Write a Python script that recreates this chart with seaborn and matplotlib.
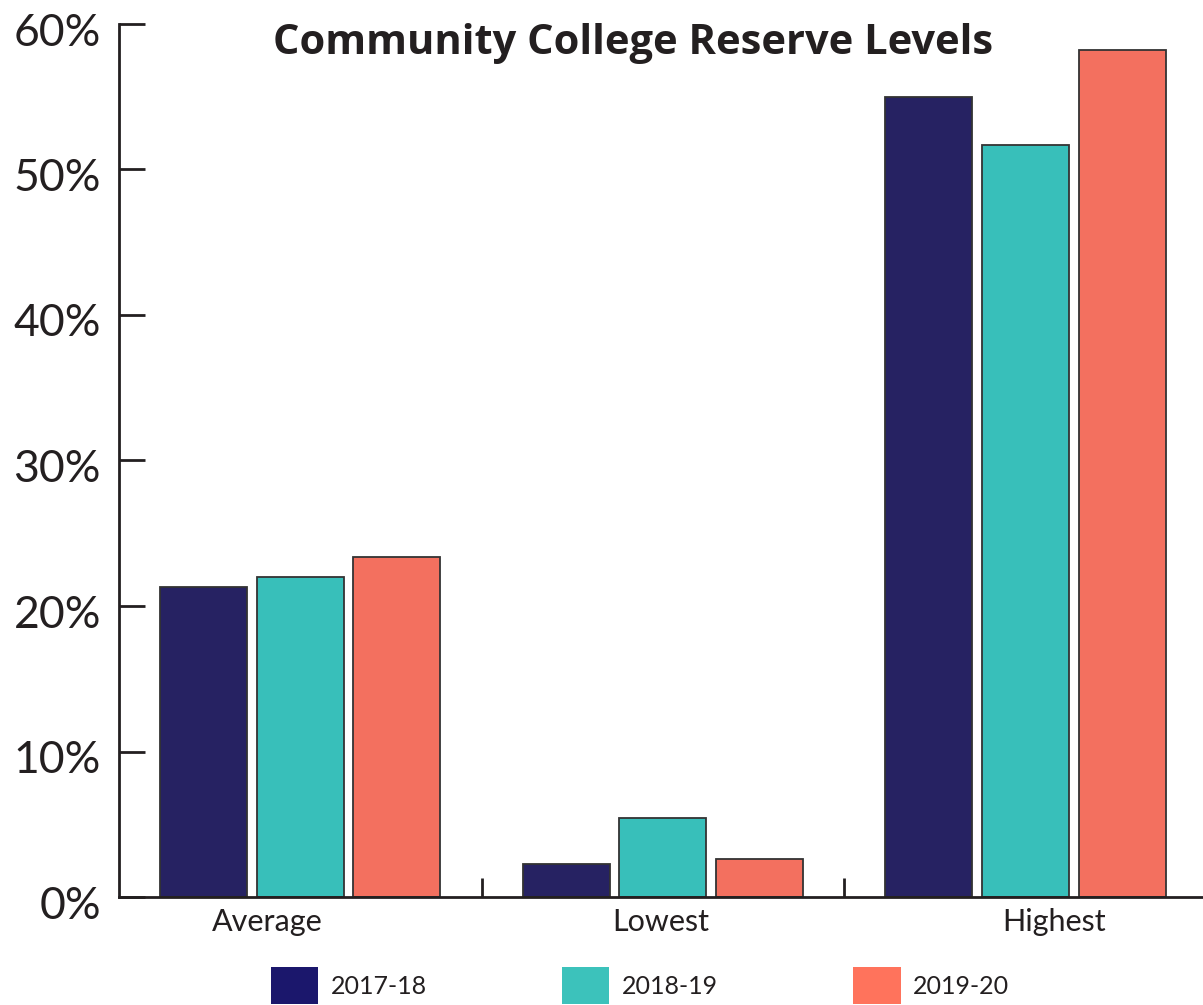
import matplotlib
matplotlib.use("Agg")
import matplotlib.pyplot as plt
from matplotlib.patches import Patch
from matplotlib.ticker import FixedLocator, FuncFormatter
from matplotlib.transforms import ScaledTranslation
import seaborn as sns
import pandas as pd

# Reserve levels (% of expenditures) by measure and fiscal year
categories = ["Average", "Lowest", "Highest"]
years = ["2017-18", "2018-19", "2019-20"]
values_2017_18 = [21.3, 2.3, 55.0]
values_2018_19 = [22.0, 5.4, 51.7]
values_2019_20 = [23.4, 2.6, 58.2]
y_ticks = [0, 10, 20, 30, 40, 50, 60]

bar_colors = ["#262262", "#38BFBA", "#F3705F"]
legend_colors = ["#1B176C", "#3CC2BB", "#FF735C"]

df = pd.DataFrame({
    "category": categories * 3,
    "year": [years[0]] * 3 + [years[1]] * 3 + [years[2]] * 3,
    "value": values_2017_18 + values_2018_19 + values_2019_20,
})

sns.set_theme(style="white")
plt.rcParams["font.family"] = ["Lato", "DejaVu Sans"]
ink = "#231F20"

fig = plt.figure(figsize=(12.03, 10.05), dpi=100)
ax = fig.add_axes([119 / 1203, 108 / 1005, 1 - 119 / 1203, (897 - 24) / 1005])

sns.barplot(
    data=df, x="category", y="value", hue="year", order=categories,
    hue_order=years, palette=bar_colors, width=0.8, gap=0.1,
    edgecolor="#333333", linewidth=1.3, saturation=1, legend=False, ax=ax,
)

ax.set_xlim(-0.5, 2.49)
ax.set_ylim(0, 60)
ax.set_xlabel("")
ax.set_ylabel("")

for side in ("top", "right"):
    ax.spines[side].set_visible(False)
for side in ("left", "bottom"):
    ax.spines[side].set_color(ink)
    ax.spines[side].set_linewidth(2.0)

ax.yaxis.set_major_locator(FixedLocator(y_ticks))
ax.yaxis.set_major_formatter(FuncFormatter(lambda v, p: f"{v:.0f}%"))
ax.tick_params(axis="y", direction="in", length=19, width=2.0, color=ink,
               labelsize=32, labelcolor=ink, pad=13, left=True)
for lbl in ax.get_yticklabels():
    lbl.set_transform(lbl.get_transform()
                      + ScaledTranslation(0, -0.05, fig.dpi_scale_trans))

ax.set_xticks([0, 1, 2])
ax.set_xticklabels(categories)
ax.xaxis.set_minor_locator(FixedLocator([0.5, 1.5]))
ax.tick_params(axis="x", which="major", length=0, labelsize=22,
               labelcolor=ink, pad=8)
ax.tick_params(axis="x", which="minor", direction="in", length=14,
               width=2.0, color=ink, bottom=True)
# nudge the category labels sideways
for lbl, dx in zip(ax.get_xticklabels(), [-0.33, -0.02, 0.29]):
    lbl.set_transform(lbl.get_transform()
                      + ScaledTranslation(dx, 0, fig.dpi_scale_trans))

fig.text(633 / 1203, 1 - 43 / 1005, "Community College Reserve Levels",
         ha="center", va="center", fontsize=30, fontweight="bold",
         color=ink, family=["Open Sans", "DejaVu Sans"])

handles = [Patch(facecolor=c, edgecolor="none", label=y)
           for c, y in zip(legend_colors, years)]
fig.legend(handles=handles, loc="center", bbox_to_anchor=(0.532, 0.019),
           ncol=3, frameon=False, fontsize=18, handlelength=1.9,
           handleheight=1.9, handletextpad=0.5, columnspacing=5.4,
           labelcolor=ink)

fig.savefig("out.png", dpi=100)
